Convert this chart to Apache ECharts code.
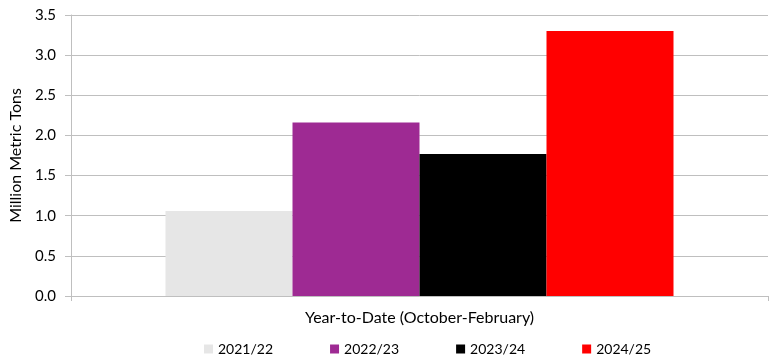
<!DOCTYPE html>
<html><head><meta charset="utf-8">
<script src="https://cdn.jsdelivr.net/npm/echarts@6/dist/echarts.min.js"></script>
<style>html,body{margin:0;padding:0;background:#fff}#c{width:776px;height:363px}</style>
</head><body><div id="c"></div>
<script>
const categories = ['Year-to-Date (October-February)'];
const seriesNames = ['2021/22', '2022/23', '2023/24', '2024/25'];
const v2021 = [1.06];
const v2022 = [2.16];
const v2023 = [1.77];
const v2024 = [3.30];
const colors = ['#e6e6e6', '#9e2a93', '#000000', '#ff0000'];
const values = [v2021, v2022, v2023, v2024];
const FONT = 'Lato';
const chart = echarts.init(document.getElementById('c'), null, {renderer: 'canvas'});
chart.setOption({
  animation: false,
  textStyle: {fontFamily: FONT},
  grid: {left: 70, right: 8, top: 15, bottom: 67, containLabel: false},
  legend: {
    data: seriesNames, bottom: 2, left: 199, icon: 'rect',
    itemWidth: 9, itemHeight: 9, itemGap: 57,
    textStyle: {fontFamily: FONT, fontSize: 14, color: '#000'}
  },
  xAxis: {
    type: 'category', data: categories,
    axisLine: {lineStyle: {color: '#bfbfbf'}},
    axisTick: {show: true, length: 5, lineStyle: {color: '#bfbfbf'}},
    axisLabel: {fontFamily: FONT, fontSize: 16, color: '#000', margin: 14}
  },
  yAxis: {
    type: 'value', min: 0, max: 3.5, interval: 0.5,
    name: 'Million Metric Tons', nameLocation: 'middle', nameGap: 47, nameRotate: 90,
    nameTextStyle: {fontFamily: FONT, fontSize: 16, color: '#000'},
    axisLine: {show: true, lineStyle: {color: '#bfbfbf'}},
    axisTick: {show: true, length: 6, lineStyle: {color: '#bfbfbf'}},
    axisLabel: {fontFamily: FONT, fontSize: 15, color: '#000', margin: 15, formatter: v => v.toFixed(1)},
    splitLine: {lineStyle: {color: '#bfbfbf'}}
  },
  series: seriesNames.map((n, i) => ({
    name: n, type: 'bar', data: values[i], barWidth: 127, barGap: '0%',
    itemStyle: {color: colors[i]}
  }))
});
</script></body></html>
